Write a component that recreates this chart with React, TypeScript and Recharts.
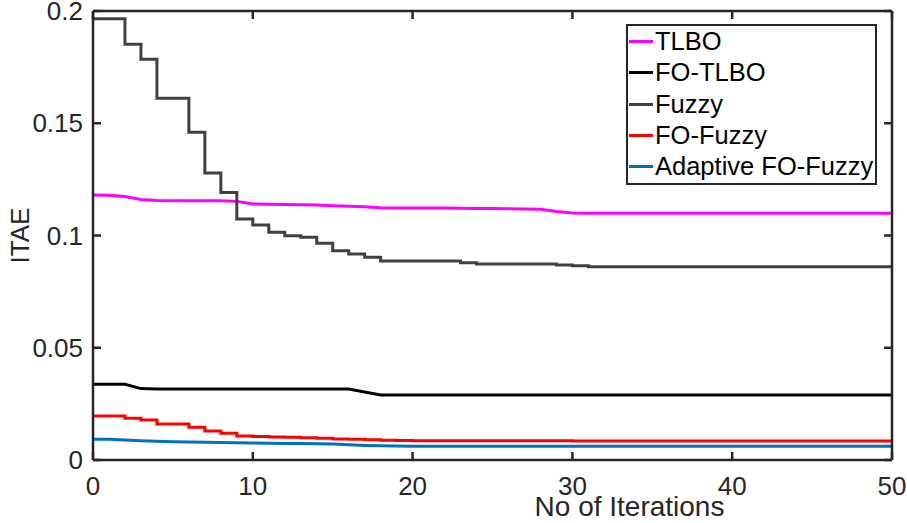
import React from 'react';
import { LineChart, Line, XAxis, YAxis, Legend, Label } from 'recharts';

const iterations = [
  0, 1, 2, 3, 4, 5, 6, 7, 8, 9, 10, 11, 12, 13, 14, 15, 16, 17, 18, 19, 20, 21, 22, 23, 24, 25,
  26, 27, 28, 29, 30, 31, 32, 33, 34, 35, 36, 37, 38, 39, 40, 41, 42, 43, 44, 45, 46, 47, 48, 49, 50,
];

const tlbo = [
  0.118, 0.1179, 0.1174, 0.116, 0.1156, 0.1155, 0.1155, 0.1155, 0.1155, 0.1152, 0.114, 0.1139, 0.1138,
  0.1137, 0.1136, 0.1133, 0.113, 0.1128, 0.1124, 0.1123, 0.1123, 0.1122, 0.1122, 0.1121, 0.112, 0.112,
  0.1119, 0.1118, 0.1117, 0.1107, 0.11, 0.1099, 0.1099, 0.1099, 0.1099, 0.1099, 0.1099, 0.1099, 0.1099,
  0.1099, 0.1099, 0.1099, 0.1099, 0.1099, 0.1099, 0.1099, 0.1099, 0.1099, 0.1099, 0.1099, 0.1099,
];

const foTlbo = [
  0.0337, 0.0337, 0.0337, 0.0318, 0.0316, 0.0316, 0.0316, 0.0316, 0.0316, 0.0316, 0.0316, 0.0316, 0.0316,
  0.0316, 0.0316, 0.0316, 0.0316, 0.0303, 0.029, 0.029, 0.029, 0.029, 0.029, 0.029, 0.029, 0.029,
  0.029, 0.029, 0.029, 0.029, 0.029, 0.029, 0.029, 0.029, 0.029, 0.029, 0.029, 0.029, 0.029,
  0.029, 0.029, 0.029, 0.029, 0.029, 0.029, 0.029, 0.029, 0.029, 0.029, 0.029, 0.029,
];

const fuzzy = [
  0.1965, 0.1965, 0.1852, 0.1785, 0.1611, 0.1611, 0.146, 0.1278, 0.1192, 0.1073, 0.1047, 0.1014, 0.0999,
  0.0992, 0.0965, 0.0932, 0.0918, 0.0903, 0.0886, 0.0886, 0.0886, 0.0886, 0.0886, 0.0879, 0.0873, 0.0873,
  0.0873, 0.0873, 0.0873, 0.0869, 0.0865, 0.0861, 0.0861, 0.0861, 0.0861, 0.0861, 0.0861, 0.0861, 0.0861,
  0.0861, 0.0861, 0.0861, 0.0861, 0.0861, 0.0861, 0.0861, 0.0861, 0.0861, 0.0861, 0.0861, 0.0861,
];

const foFuzzy = [
  0.0196, 0.0196, 0.0186, 0.0178, 0.016, 0.016, 0.0146, 0.0129, 0.0119, 0.0107, 0.0105, 0.0103, 0.0101,
  0.0099, 0.0097, 0.0094, 0.0092, 0.009, 0.0088, 0.0087, 0.0086, 0.0086, 0.0086, 0.0086, 0.0086, 0.0086,
  0.0086, 0.0086, 0.0086, 0.0086, 0.0085, 0.0085, 0.0085, 0.0085, 0.0085, 0.0085, 0.0085, 0.0085, 0.0085,
  0.0085, 0.0085, 0.0085, 0.0085, 0.0085, 0.0085, 0.0085, 0.0085, 0.0085, 0.0085, 0.0085, 0.0085,
];

const adaptiveFoFuzzy = [
  0.0092, 0.0092, 0.0089, 0.0086, 0.0083, 0.0081, 0.008, 0.0079, 0.0078, 0.0077, 0.0076, 0.0075, 0.0074,
  0.0073, 0.0072, 0.0071, 0.0068, 0.0065, 0.0063, 0.0062, 0.0061, 0.0061, 0.0061, 0.0061, 0.0061, 0.0061,
  0.0061, 0.0061, 0.0061, 0.0061, 0.0061, 0.0061, 0.0061, 0.0061, 0.0061, 0.0061, 0.0061, 0.0061, 0.0061,
  0.0061, 0.0061, 0.0061, 0.0061, 0.0061, 0.0061, 0.0061, 0.0061, 0.0061, 0.0061, 0.0061, 0.0061,
];

const seriesKeys = ['tlbo', 'foTlbo', 'fuzzy', 'foFuzzy', 'adaptive'];
const seriesNames = ['TLBO', 'FO-TLBO', 'Fuzzy', 'FO-Fuzzy', 'Adaptive FO-Fuzzy'];
const seriesColors = ['#FF00FF', '#000000', '#404040', '#FF0000', '#0072BD'];
const seriesCurve = ['linear', 'linear', 'stepAfter', 'stepAfter', 'linear'];

const xTicks = [0, 10, 20, 30, 40, 50];
const xTickLabels = ['0', '10', '20', '30', '40', '50'];
const yTicks = [0, 0.05, 0.1, 0.15, 0.2];
const yTickLabels = ['0', '0.05', '0.1', '0.15', '0.2'];

const xLabel = 'No of Iterations';
const yLabel = 'ITAE';

const seriesValues = [tlbo, foTlbo, fuzzy, foFuzzy, adaptiveFoFuzzy];

const data = iterations.map((it, i) => {
  const row: Record<string, number> = { iter: it };
  seriesKeys.forEach((k, s) => {
    row[k] = seriesValues[s][i];
  });
  return row;
});

const FONT = '"Liberation Sans", Arial, Helvetica, sans-serif';
const AXIS = '#262626';

const noTickText = () => <g />;

const renderLegend = () => (
  <div
    style={{
      border: `2.5px solid ${AXIS}`,
      background: '#fff',
      boxSizing: 'border-box',
      width: 251,
      padding: '0 0 1px 0',
      fontFamily: FONT,
      fontSize: 25.5,
      color: '#000',
      textAlign: 'left',
    }}
  >
    {seriesNames.map((name, i) => (
      <div
        key={name}
        style={{ display: 'flex', alignItems: 'center', height: 31.3, whiteSpace: 'nowrap' }}
      >
        <span
          style={{
            display: 'inline-block',
            width: 24,
            height: 3,
            marginLeft: 1,
            marginRight: 2,
            background: seriesColors[i],
          }}
        />
        <span>{name}</span>
      </div>
    ))}
  </div>
);

export default function App() {
  const axisLine = { stroke: AXIS, strokeWidth: 2.5 };
  const tickLine = { stroke: AXIS, strokeWidth: 2.5 };
  const tickStyle = { fill: AXIS, fontSize: 26, fontFamily: FONT };
  return (
    <div style={{ position: 'absolute', left: 0, top: 0, background: '#fff' }}>
      <LineChart
        width={907}
        height={523}
        data={data}
        margin={{ top: 9, right: 13, left: 0, bottom: 0 }}
      >
        <XAxis
          xAxisId="b"
          dataKey="iter"
          type="number"
          domain={[0, 50]}
          ticks={xTicks}
          interval={0}
          allowDataOverflow
          height={63}
          tickSize={-8}
          tickMargin={25}
          axisLine={axisLine}
          tickLine={tickLine}
          tick={tickStyle}
          tickFormatter={(v: number) => xTickLabels[xTicks.indexOf(v)]}
        >
          <Label
            value={xLabel}
            position="insideBottom"
            offset={7}
            dx={137}
            fill={AXIS}
            fontSize={28}
            fontFamily={FONT}
          />
        </XAxis>
        <XAxis
          xAxisId="t"
          dataKey="iter"
          orientation="top"
          type="number"
          domain={[0, 50]}
          ticks={xTicks}
          interval={0}
          allowDataOverflow
          height={2}
          tickSize={-8}
          tickMargin={0}
          tick={noTickText}
          axisLine={axisLine}
          tickLine={tickLine}
        />
        <YAxis
          yAxisId="l"
          type="number"
          domain={[0, 0.2]}
          ticks={yTicks}
          interval={0}
          allowDataOverflow
          width={93}
          tickSize={-8}
          tickMargin={18}
          axisLine={axisLine}
          tickLine={tickLine}
          tick={tickStyle}
          tickFormatter={(v: number) => yTickLabels[yTicks.indexOf(v)]}
        >
          <Label
            value={yLabel}
            position="center"
            angle={-90}
            dx={-27}
            fill={AXIS}
            fontSize={26}
            fontFamily={FONT}
          />
        </YAxis>
        <YAxis
          yAxisId="r"
          orientation="right"
          type="number"
          domain={[0, 0.2]}
          ticks={yTicks}
          interval={0}
          allowDataOverflow
          width={2}
          tickSize={-8}
          tickMargin={0}
          tick={noTickText}
          axisLine={axisLine}
          tickLine={tickLine}
        />
        {seriesKeys.map((k, i) => (
          <Line
            key={k}
            xAxisId="b"
            yAxisId="l"
            dataKey={k}
            name={seriesNames[i]}
            type={seriesCurve[i] as any}
            stroke={seriesColors[i]}
            strokeWidth={3}
            dot={false}
            activeDot={false}
            isAnimationActive={false}
          />
        ))}
        <Line
          xAxisId="t"
          yAxisId="r"
          dataKey="fuzzy"
          stroke="none"
          strokeWidth={0}
          legendType="none"
          dot={false}
          activeDot={false}
          isAnimationActive={false}
        />
        <Legend
          layout="vertical"
          align="center"
          verticalAlign="middle"
          wrapperStyle={{ left: 626, top: 24, width: 251, margin: 0, padding: 0 }}
          content={renderLegend}
        />
      </LineChart>
    </div>
  );
}
